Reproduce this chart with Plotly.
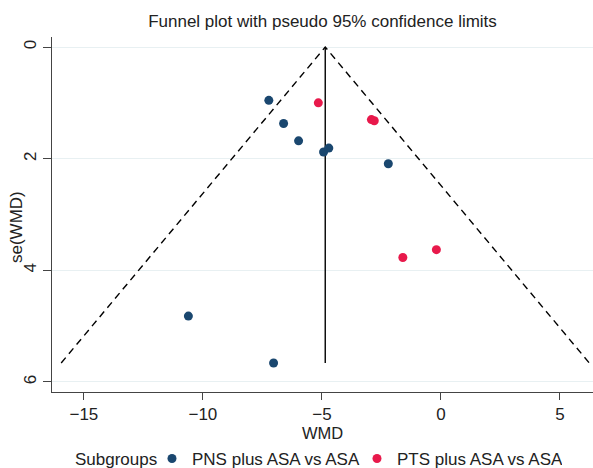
import plotly.graph_objects as go

# ---- data ----
pns_wmd = [-7.23, -6.61, -5.98, -4.93, -4.71, -2.21, -10.61, -7.03]
pns_se = [0.955, 1.37, 1.68, 1.88, 1.81, 2.09, 4.82, 5.66]
pts_wmd = [-5.15, -2.92, -2.80, -1.60, -0.19]
pts_se = [1.00, 1.30, 1.32, 3.77, 3.63]
pooled_wmd = -4.86
group_names = ["PNS plus ASA vs ASA", "PTS plus ASA vs ASA"]
x_ticks = [-15, -10, -5, 0, 5]
y_ticks = [0, 2, 4, 6]

blue = "#1a476f"
red = "#e8194b"
font_family = "Liberation Sans, Arial, sans-serif"

se_max = max(pns_se + pts_se)
z = 1.96

fig = go.Figure()

# funnel (pseudo 95% limits)
fig.add_trace(go.Scatter(
    x=[pooled_wmd - z * se_max, pooled_wmd, pooled_wmd + z * se_max],
    y=[se_max, 0, se_max],
    mode="lines", line=dict(color="black", width=1.4, dash="7px,5px"),
    showlegend=False, hoverinfo="skip"))
# pooled estimate
fig.add_trace(go.Scatter(
    x=[pooled_wmd, pooled_wmd], y=[0, se_max],
    mode="lines", line=dict(color="black", width=1.4),
    showlegend=False, hoverinfo="skip"))

fig.add_trace(go.Scatter(
    x=pns_wmd, y=pns_se, mode="markers", name=group_names[0],
    marker=dict(color=blue, size=9)))
fig.add_trace(go.Scatter(
    x=pts_wmd, y=pts_se, mode="markers", name=group_names[1],
    marker=dict(color=red, size=9)))

PLOT_W = 593 - 52
PLOT_H = 468 - 37 - 76
LEG_Y = (392 - 459) / PLOT_H

fig.update_layout(
    width=593, height=468,
    margin=dict(l=52, r=0, t=37, b=76, autoexpand=False),
    paper_bgcolor="white", plot_bgcolor="white",
    font=dict(family=font_family, size=17, color="#222"),
    title=dict(text="Funnel plot with pseudo 95% confidence limits",
               x=0.5, xanchor="center", xref="paper",
               y=1 - 21 / 468, yanchor="middle",
               font=dict(size=17, color="#222")),
    showlegend=True,
    legend=dict(orientation="h", x=(152 - 52) / PLOT_W, xanchor="left",
                y=LEG_Y, yanchor="middle",
                font=dict(size=17), itemwidth=30,
                entrywidth=160, entrywidthmode="pixels",
                bgcolor="rgba(0,0,0,0)", tracegroupgap=0),
    xaxis=dict(range=[-16.34, 6.39], tickvals=x_ticks,
               ticks="outside", ticklen=7, tickcolor="#444",
               showline=True, linecolor="#444", linewidth=1,
               showgrid=False, zeroline=False, ticklabelstandoff=0,
               tickfont=dict(size=17)),
    yaxis=dict(range=[6.18, -0.18], tickvals=y_ticks,
               ticks="outside", ticklen=8, tickcolor="#444",
               tickangle=-90,
               showline=True, linecolor="#444", linewidth=1,
               showgrid=True, gridcolor="#e8f0f2", gridwidth=1,
               zeroline=False, tickfont=dict(size=17)),
    annotations=[
        dict(text="WMD", xref="paper", yref="paper", x=0.5, xanchor="center",
             y=(392 - 433) / PLOT_H, yanchor="middle", showarrow=False,
             font=dict(size=16.5)),
        dict(text="se(WMD)", xref="paper", yref="paper",
             x=(17 - 52) / PLOT_W, xanchor="center",
             y=(392 - 227) / PLOT_H, yanchor="middle", textangle=-90,
             showarrow=False, font=dict(size=17)),
        dict(text="Subgroups", xref="paper", yref="paper",
             x=(159 - 52) / PLOT_W, xanchor="right",
             y=LEG_Y, yanchor="middle", showarrow=False,
             font=dict(size=17)),
    ],
)

fig.write_html("out.html")
